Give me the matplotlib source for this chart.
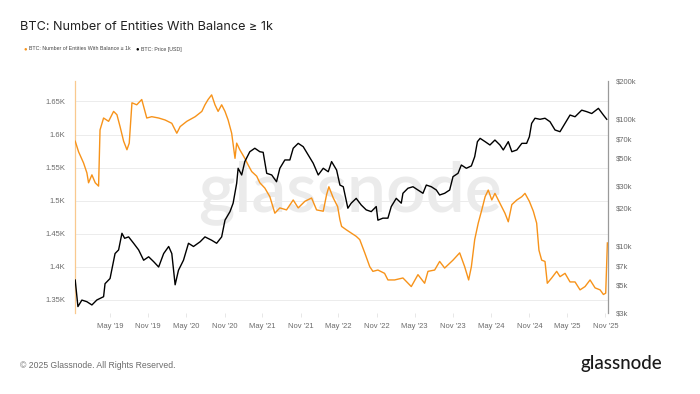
import matplotlib
matplotlib.use("Agg")
import matplotlib.pyplot as plt
import matplotlib.ticker as mticker
import pandas as pd

# ---------------- data ----------------
entity_dates = [
    "2018-11-16", "2018-12-02", "2018-12-26", "2019-01-11", "2019-01-19", "2019-02-04",
    "2019-02-20", "2019-03-08", "2019-03-15", "2019-04-01", "2019-04-25", "2019-05-19",
    "2019-06-04", "2019-06-19", "2019-07-06", "2019-07-22", "2019-08-02", "2019-08-15",
    "2019-09-07", "2019-10-01", "2019-10-25", "2019-11-18", "2019-12-21", "2020-01-21",
    "2020-02-22", "2020-03-17", "2020-04-02", "2020-05-04", "2020-06-13", "2020-07-15",
    "2020-07-30", "2020-08-14", "2020-08-31", "2020-09-16", "2020-10-01", "2020-10-18",
    "2020-11-03", "2020-11-18", "2020-12-05", "2020-12-21", "2020-12-29", "2021-01-13",
    "2021-02-06", "2021-02-22", "2021-03-11", "2021-04-04", "2021-04-19", "2021-05-13",
    "2021-06-06", "2021-06-30", "2021-07-24", "2021-08-25", "2021-09-26", "2021-10-20",
    "2021-11-21", "2021-12-23", "2022-01-16", "2022-02-17", "2022-03-05", "2022-03-16",
    "2022-04-06", "2022-04-27", "2022-05-08", "2022-05-16", "2022-06-07", "2022-07-01",
    "2022-07-25", "2022-08-11", "2022-09-04", "2022-09-28", "2022-10-13", "2022-11-06",
    "2022-12-08", "2022-12-24", "2023-01-25", "2023-03-06", "2023-04-15", "2023-05-17",
    "2023-06-18", "2023-07-04", "2023-08-05", "2023-08-29", "2023-09-22", "2023-11-01",
    "2023-12-03", "2023-12-27", "2024-01-15", "2024-01-28", "2024-02-13", "2024-03-01",
    "2024-03-18", "2024-04-03", "2024-04-18", "2024-05-05", "2024-05-20", "2024-06-13",
    "2024-07-07", "2024-07-23", "2024-08-09", "2024-09-02", "2024-09-26", "2024-10-11",
    "2024-11-01", "2024-11-20", "2024-12-06", "2024-12-17", "2024-12-30", "2025-01-15",
    "2025-01-26", "2025-02-16", "2025-03-12", "2025-03-28", "2025-04-21", "2025-05-15",
    "2025-06-08", "2025-07-02", "2025-07-26", "2025-08-19", "2025-09-12", "2025-10-06",
    "2025-10-22", "2025-11-02", "2025-11-10",
]
entities = [
    1590, 1574, 1557, 1542, 1527, 1539,
    1527, 1522, 1607, 1625, 1620, 1635,
    1630, 1612, 1590, 1577, 1587, 1648,
    1645, 1653, 1625, 1627, 1625, 1622,
    1617, 1602, 1612, 1620, 1627, 1635,
    1645, 1653, 1660, 1645, 1635, 1645,
    1635, 1622, 1602, 1564, 1587, 1577,
    1564, 1554, 1544, 1537, 1527, 1519,
    1506, 1481, 1489, 1486, 1501, 1489,
    1499, 1504, 1486, 1484, 1509, 1521,
    1504, 1491, 1471, 1461, 1456, 1451,
    1446, 1441, 1421, 1400, 1393, 1395,
    1390, 1380, 1380, 1383, 1370, 1388,
    1375, 1393, 1395, 1408, 1398, 1410,
    1421, 1400, 1380, 1400, 1441, 1466,
    1486, 1506, 1516, 1501, 1511, 1496,
    1481, 1468, 1494, 1501, 1506, 1511,
    1499, 1484, 1466, 1425, 1410, 1408,
    1375, 1383, 1393, 1385, 1390, 1377,
    1377, 1365, 1370, 1380, 1368, 1365,
    1358, 1360, 1436,
]

price_dates = [
    "2018-11-16", "2018-11-29", "2018-12-18", "2019-01-11", "2019-02-04", "2019-02-28",
    "2019-04-01", "2019-04-08", "2019-05-02", "2019-05-26", "2019-06-12", "2019-06-28",
    "2019-07-11", "2019-07-30", "2019-08-23", "2019-09-16", "2019-10-10", "2019-11-03",
    "2019-11-27", "2019-12-21", "2020-01-14", "2020-02-07", "2020-02-22", "2020-03-09",
    "2020-03-25", "2020-04-18", "2020-05-12", "2020-06-05", "2020-07-07", "2020-07-30",
    "2020-08-31", "2020-09-24", "2020-10-18", "2020-11-03", "2020-11-27", "2020-12-12",
    "2020-12-29", "2021-01-05", "2021-01-22", "2021-02-06", "2021-03-02", "2021-03-26",
    "2021-04-19", "2021-05-05", "2021-05-22", "2021-06-15", "2021-07-08", "2021-07-24",
    "2021-08-17", "2021-09-10", "2021-09-26", "2021-10-20", "2021-11-13", "2021-12-07",
    "2021-12-31", "2022-01-24", "2022-02-17", "2022-03-13", "2022-03-29", "2022-04-22",
    "2022-05-08", "2022-05-24", "2022-06-15", "2022-07-01", "2022-07-25", "2022-08-18",
    "2022-09-11", "2022-10-05", "2022-10-29", "2022-11-06", "2022-11-30", "2022-12-24",
    "2023-01-09", "2023-02-02", "2023-02-26", "2023-03-06", "2023-03-30", "2023-04-23",
    "2023-05-17", "2023-06-10", "2023-06-26", "2023-07-20", "2023-08-13", "2023-08-29",
    "2023-09-22", "2023-10-16", "2023-11-01", "2023-11-25", "2023-12-11", "2024-01-04",
    "2024-01-28", "2024-02-13", "2024-02-26", "2024-03-10", "2024-04-03", "2024-04-26",
    "2024-05-20", "2024-06-13", "2024-06-29", "2024-07-23", "2024-08-09", "2024-09-02",
    "2024-09-26", "2024-10-19", "2024-11-01", "2024-11-12", "2024-11-28", "2024-12-22",
    "2025-01-15", "2025-02-08", "2025-03-04", "2025-03-28", "2025-04-21", "2025-05-15",
    "2025-06-08", "2025-07-10", "2025-08-03", "2025-08-27", "2025-09-28", "2025-10-22",
    "2025-11-07",
]
price_usd = [
    5450, 3370, 3790, 3680, 3470, 3800,
    4030, 5100, 5600, 8800, 9400, 12700,
    11600, 11900, 10600, 9400, 7800, 8300,
    7600, 6900, 8800, 10000, 8800, 5000,
    6500, 7800, 10600, 10000, 10900, 11900,
    11200, 10600, 11900, 16100, 18800, 21900,
    31400, 41200, 36500, 46500, 55600, 59200,
    55600, 55000, 37600, 36500, 32300, 41200,
    47900, 47900, 59200, 64700, 60900, 52400,
    45100, 36500, 41200, 38700, 46500, 39900,
    30400, 29500, 20000, 21900, 23900, 21200,
    19400, 18800, 20600, 16100, 16700, 16700,
    20600, 23900, 21900, 26200, 28700, 29500,
    27800, 26200, 30400, 29500, 27800, 25400,
    26200, 27800, 35400, 37600, 43700, 41200,
    43000, 50800, 66700, 70800, 66700, 62800,
    68700, 62800, 57400, 66700, 55600, 57400,
    64700, 64700, 72900, 92900, 101900, 100000,
    101900, 95700, 82400, 79900, 92900, 108000,
    104700, 118000, 114800, 111000, 121900, 108000,
    100000,
]

left_ticks = [1350, 1400, 1450, 1500, 1550, 1600, 1650]
left_labels = ["1.35K", "1.4K", "1.45K", "1.5K", "1.55K", "1.6K", "1.65K"]
right_ticks = [3000, 5000, 7000, 10000, 20000, 30000, 50000, 70000, 100000, 200000]
right_labels = ["$3k", "$5k", "$7k", "$10k", "$20k", "$30k", "$50k", "$70k", "$100k", "$200k"]

title_text = "BTC: Number of Entities With Balance \u2265 1k"
legend_labels = ["BTC: Number of Entities With Balance \u2265 1k", "BTC: Price [USD]"]

# ---------------- styling ----------------
ORANGE = "#f7931a"
TICK_COLOR = "#6b6b6b"
plt.rcParams["font.family"] = ["Liberation Sans", "DejaVu Sans"]

fig = plt.figure(figsize=(7.0, 3.94), dpi=100)
ax = fig.add_axes([75 / 700, 1 - 313 / 394, (608 - 75) / 700, (313 - 81) / 394])
ax2 = ax.twinx()
ax.set_zorder(1)
ax2.set_zorder(2)
ax.patch.set_visible(False)
ax2.patch.set_visible(False)

ed = pd.to_datetime(entity_dates)
pdts = pd.to_datetime(price_dates)

ax.plot(ed, entities, color=ORANGE, lw=1.0, zorder=3)
ax2.plot(pdts, price_usd, color="black", lw=1.0, zorder=3)

ax.set_ylim(1330, 1681)
ax2.set_yscale("log")
ax2.set_ylim(3000, 200000)
ax.set_xlim(pd.Timestamp("2018-11-15"), pd.Timestamp("2025-11-13"))

ax.set_yticks(left_ticks)
ax.set_yticklabels(left_labels)
ax2.yaxis.set_major_locator(mticker.FixedLocator(right_ticks))
ax2.yaxis.set_minor_locator(mticker.NullLocator())
ax2.set_yticklabels(right_labels)

ax.yaxis.grid(True, color="#ececec", lw=0.7)
ax.set_axisbelow(True)

xt = pd.date_range("2019-05-01", "2025-11-01", freq="6MS")
ax.set_xticks(xt)
ax.set_xticklabels([d.strftime("%b '%y") for d in xt])

for a in (ax, ax2):
    for s in ("top", "bottom"):
        a.spines[s].set_visible(False)
ax.spines["right"].set_visible(False)
ax2.spines["left"].set_visible(False)
ax.spines["left"].set_color("#f9c98f")
ax.spines["left"].set_linewidth(0.9)
ax2.spines["right"].set_color("#9a9a9a")
ax2.spines["right"].set_linewidth(0.9)

ax.tick_params(axis="y", length=0, pad=7, labelsize=5.5, labelcolor=TICK_COLOR)
ax2.tick_params(axis="y", length=0, pad=6, labelsize=5.5, labelcolor=TICK_COLOR)
ax.tick_params(axis="x", length=3, width=0.5, color="#dddddd", pad=4,
               labelsize=5.5, labelcolor=TICK_COLOR)

# watermark (behind the lines)
ax.text(350 / 700, 1 - 193 / 394, "glassnode", ha="center", va="center",
        transform=fig.transFigure, fontsize=50, color="#ebebeb",
        family=["Lato", "DejaVu Sans"], fontweight="semibold", zorder=0)

# title & legend
fig.text(20 / 700, 1 - 27 / 394, title_text, ha="left", va="center",
         fontsize=9.1, color="#222222", family=["Inter", "DejaVu Sans"])
fig.text(25 / 700, 1 - 49 / 394, "\u25cf", ha="center", va="center",
         fontsize=4.2, color=ORANGE)
fig.text(29 / 700, 1 - 49 / 394, legend_labels[0], ha="left", va="center",
         fontsize=3.8, color="#444444")
fig.text(137 / 700, 1 - 49 / 394, "\u25cf", ha="center", va="center",
         fontsize=4.2, color="black")
fig.text(141 / 700, 1 - 49 / 394, legend_labels[1], ha="left", va="center",
         fontsize=3.8, color="#444444")

# footer
fig.text(20 / 700, 1 - 365 / 394, "\u00a9 2025 Glassnode. All Rights Reserved.",
         ha="left", va="center", fontsize=6.2, color="#6b6b6b")
fig.text(662 / 700, 1 - 364 / 394, "glassnode", ha="right", va="center",
         fontsize=13.5, color="#1a1a1a", family=["Lato", "DejaVu Sans"],
         fontweight="medium")

fig.savefig("out.png", dpi=100, facecolor="white")
